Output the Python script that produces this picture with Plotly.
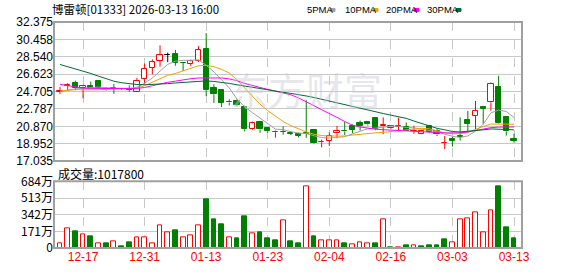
import plotly.graph_objects as go

# ---------------- data ----------------
dates = ["2025-12-12","2025-12-15","2025-12-16","2025-12-17","2025-12-18","2025-12-19",
         "2025-12-22","2025-12-23","2025-12-24","2025-12-29","2025-12-30","2025-12-31",
         "2026-01-02","2026-01-05","2026-01-06","2026-01-07","2026-01-08","2026-01-09",
         "2026-01-12","2026-01-13","2026-01-14","2026-01-15","2026-01-16","2026-01-19",
         "2026-01-20","2026-01-21","2026-01-22","2026-01-23","2026-01-26","2026-01-27",
         "2026-01-28","2026-01-29","2026-01-30","2026-02-02","2026-02-03","2026-02-04",
         "2026-02-05","2026-02-06","2026-02-09","2026-02-10","2026-02-11","2026-02-12",
         "2026-02-13","2026-02-16","2026-02-20","2026-02-23","2026-02-24","2026-02-25",
         "2026-02-26","2026-02-27","2026-03-02","2026-03-03","2026-03-04","2026-03-05",
         "2026-03-06","2026-03-09","2026-03-10","2026-03-11","2026-03-12","2026-03-13"]

opens = [24.68,25.31,25.62,25.15,25.35,25.85,25.00,25.12,25.00,24.97,
         24.67,26.05,27.30,28.12,28.72,28.90,27.90,27.76,28.12,29.38,
         25.15,24.85,23.60,23.70,23.05,20.60,21.35,20.65,20.26,20.28,
         20.10,20.05,20.12,20.50,19.12,19.27,20.08,20.36,20.88,21.20,
         21.38,21.82,20.85,20.70,20.83,20.84,20.35,20.00,20.92,20.40,
         19.02,19.50,19.75,21.58,22.00,23.00,23.52,25.20,21.93,19.50]
highs = [25.20,25.63,25.90,25.45,25.80,25.90,25.20,25.55,25.05,25.38,
         26.20,27.80,28.25,29.80,29.00,29.30,27.95,28.22,29.70,31.15,
         25.50,24.90,23.85,23.85,23.15,21.40,21.48,20.75,20.40,20.87,
         20.35,20.15,23.75,20.55,19.40,20.20,20.90,21.35,21.10,21.50,
         21.45,21.90,21.85,20.95,21.83,21.30,20.94,20.34,20.98,20.58,
         19.80,19.70,21.85,22.55,23.67,23.03,25.70,26.45,21.95,20.05]
lows = [24.45,24.84,24.85,23.96,25.10,25.12,24.80,24.45,24.90,24.67,
        24.65,25.55,26.60,27.45,27.95,27.55,26.97,27.50,27.97,24.20,
        23.45,23.00,23.18,23.08,20.30,20.48,20.15,20.15,19.62,19.95,
        19.90,19.65,19.60,18.95,18.55,18.70,19.55,19.90,20.10,20.40,
        20.95,20.45,20.00,20.60,20.30,20.34,20.05,19.97,20.18,19.80,
        18.35,18.63,19.30,20.23,20.50,21.10,22.60,21.15,19.85,19.05]
closes = [24.78,25.42,25.10,25.28,25.13,25.15,24.95,25.08,24.98,24.93,
          25.91,27.23,27.95,28.72,28.72,27.85,27.86,28.02,29.28,24.85,
          24.40,23.45,23.50,23.20,20.55,21.20,20.52,20.30,20.22,20.24,
          20.05,19.82,20.05,19.00,19.18,19.85,20.32,20.30,20.50,20.85,
          21.08,20.60,21.00,20.85,20.87,20.38,20.40,20.30,20.25,19.97,
          19.08,19.25,19.65,21.12,22.60,22.83,25.55,21.20,20.30,19.30]
# volume in 万 shares
volumes = [49.6,198,168.5,138.8,119,49.6,49.6,66,19.8,59.5,
           109,109,49.6,228,158.6,178,109,129,228,499,
           297,238,109,99,327,155,158.6,99,79,287.5,
           69.4,49.6,631,119,79,79,79,49.6,39.7,59.5,
           49.6,49.6,297,9.9,9.9,29.7,29.7,19.8,29.7,29.7,
           89,59.5,297,307,367,158.6,386.6,637,208,101.78]

ma5 = [24.70,24.85,25.00,25.05,25.14,25.20,25.12,25.12,25.06,25.02,
       25.17,25.63,26.20,26.95,27.70,28.05,28.15,28.15,28.20,27.60,
       26.88,26.00,25.10,23.88,23.02,22.38,21.79,21.15,20.56,20.50,
       20.27,20.13,20.08,19.83,19.62,19.58,19.68,19.73,20.03,20.36,
       20.61,20.67,20.81,20.88,20.88,20.74,20.70,20.56,20.44,20.26,
       20.00,19.77,19.64,19.81,20.34,21.09,22.35,22.66,22.50,21.84]
ma10 = [24.75,24.85,24.92,24.90,24.88,24.90,24.95,24.98,25.00,25.02,
        25.10,25.35,25.75,26.15,26.50,26.70,27.00,27.30,27.55,27.60,
        27.45,27.15,26.75,26.00,25.10,24.15,23.30,22.60,21.95,21.40,
        20.95,20.60,20.25,20.00,19.85,19.80,19.78,19.80,19.90,20.00,
        20.10,20.15,20.20,20.30,20.40,20.50,20.60,20.65,20.60,20.40,
        20.15,20.05,20.05,20.20,20.55,20.85,21.12,21.12,21.12,21.10]
ma20 = [25.50,25.35,25.15,25.08,25.05,25.03,25.02,25.02,25.02,25.03,
        25.05,25.15,25.35,25.55,25.72,25.85,26.00,26.12,26.20,26.22,
        26.22,26.20,26.10,25.90,25.60,25.35,25.15,24.95,24.75,24.55,
        24.35,24.00,23.60,23.15,22.70,22.30,21.85,21.40,21.00,20.80,
        20.65,20.55,20.50,20.45,20.40,20.32,20.25,20.22,20.20,20.18,
        20.15,20.12,20.15,20.25,20.40,20.55,20.72,20.78,20.80,20.80]
ma30 = [27.69,27.45,27.20,26.95,26.70,26.40,26.10,25.85,25.68,25.56,
        25.48,25.45,25.47,25.52,25.58,25.65,25.72,25.80,25.88,25.88,
        25.82,25.74,25.60,25.45,25.30,25.15,25.02,24.90,24.75,24.62,
        24.50,24.38,24.22,24.05,23.85,23.65,23.45,23.22,23.00,22.80,
        22.62,22.45,22.28,22.10,21.95,21.75,21.45,21.18,20.90,20.65,
        20.48,20.30,20.25,20.30,20.40,20.48,20.58,20.58,20.52,20.48]

tick_dates = ["2025-12-17","2025-12-31","2026-01-13","2026-01-23",
              "2026-02-04","2026-02-16","2026-03-03","2026-03-13"]
price_tick_labels = ["17.035","18.952","20.870","22.787","24.705",
                     "26.623","28.540","30.458","32.375"]
vol_tick_values = [0, 171, 342, 513, 684]
vol_tick_labels = ["0", "171万", "342万", "513万", "684万"]
title_text = "博雷顿[01333] 2026-03-13 16:00"
ma_names = ["5PMA", "10PMA", "20PMA", "30PMA"]

# ---------------- styles ----------------
RED = "#ff0000"
GREEN = "#008000"
BLACK = "#000000"
MA_COLORS = ["#a0a0a0", "#f4a000", "#ff00ff", "#006b35"]
FONT = "Liberation Sans, Arial, sans-serif"
CJK = "Noto Sans CJK SC, Liberation Sans, sans-serif"

W, H = 578, 276
L, R, T, B = 54, 522, 21, 255
PW, PH = R - L, B - T


def px(x):
    return (x - L) / PW


def py(y):
    return (B - y) / PH


n = len(dates)
cand_col = []
for i in range(n):
    if closes[i] > opens[i]:
        cand_col.append("r")
    elif closes[i] < opens[i]:
        cand_col.append("g")
    else:
        pc = closes[i - 1] if i > 0 else closes[i]
        cand_col.append("r" if closes[i] > pc else ("g" if closes[i] < pc else "k"))
vol_col = []
for i in range(n):
    ref = closes[i - 1] if i > 0 else opens[i]
    vol_col.append("r" if closes[i] >= ref else "g")

fig = go.Figure()
colmap = {"r": RED, "g": GREEN, "k": BLACK}

# wicks (split above/below the body so hollow bodies stay empty)
for key in ["r", "g", "k"]:
    xs, ys = [], []
    for i in range(n):
        if cand_col[i] != key:
            continue
        top = max(opens[i], closes[i])
        bot = min(opens[i], closes[i])
        xs += [dates[i], dates[i], None, dates[i], dates[i], None]
        ys += [top, highs[i], None, lows[i], bot, None]
    if xs:
        fig.add_trace(go.Scatter(x=xs, y=ys, mode="lines",
                                 line=dict(color=colmap[key], width=1),
                                 hoverinfo="skip", showlegend=False,
                                 xaxis="x", yaxis="y"))

# bodies
for key in ["r", "g", "k"]:
    idx = [i for i in range(n) if cand_col[i] == key]
    if not idx:
        continue
    fill = "#ffffff" if key == "r" else colmap[key]
    fig.add_trace(go.Bar(
        x=[dates[i] for i in idx],
        y=[max(abs(closes[i] - opens[i]), 0.03) for i in idx],
        base=[min(opens[i], closes[i]) for i in idx],
        width=0.68,
        marker=dict(color=fill, line=dict(color=colmap[key], width=1)),
        showlegend=False, hoverinfo="skip", xaxis="x", yaxis="y"))

# moving averages
for vals, col in zip([ma5, ma10, ma20, ma30], MA_COLORS):
    fig.add_trace(go.Scatter(x=dates, y=vals, mode="lines",
                             line=dict(color=col, width=1),
                             hoverinfo="skip", showlegend=False,
                             xaxis="x", yaxis="y"))

# volume
for key in ["r", "g"]:
    idx = [i for i in range(n) if vol_col[i] == key]
    fill = "#ffffff" if key == "r" else GREEN
    fig.add_trace(go.Bar(
        x=[dates[i] for i in idx],
        y=[volumes[i] for i in idx],
        width=0.62,
        marker=dict(color=fill, line=dict(color=colmap[key], width=1)),
        showlegend=False, hoverinfo="skip", xaxis="x2", yaxis="y2"))

xr = [-0.78, n + 0.04]
common_x = dict(type="category", categoryorder="array", categoryarray=dates,
                range=xr, showgrid=True, gridcolor="#c8c8c8", griddash="dash",
                gridwidth=1, zeroline=False, showline=False,
                tickvals=tick_dates, ticktext=[d[5:] for d in tick_dates],
                ticks="")
fig.update_layout(
    width=W, height=H,
    margin=dict(l=L, r=W - R, t=T, b=H - B),
    paper_bgcolor="#ffffff", plot_bgcolor="#ffffff",
    barmode="overlay", bargap=0,
    showlegend=False,
    xaxis=dict(**common_x, anchor="y", showticklabels=False),
    xaxis2=dict(**common_x, anchor="y2", matches="x", showticklabels=True,
                tickfont=dict(family=FONT, size=12, color=RED)),
    yaxis=dict(domain=[py(165), 1.0], range=[17.035, 32.375],
               tickvals=[float(t) for t in price_tick_labels],
               ticktext=price_tick_labels, showgrid=True, gridcolor="#c8c8c8",
               zeroline=False, ticks="", tickfont=dict(family=FONT, size=12, color="#000000")),
    yaxis2=dict(domain=[0.0, py(186)], range=[0, 684],
                tickvals=vol_tick_values, ticktext=vol_tick_labels,
                showgrid=True, gridcolor="#c8c8c8", zeroline=False, ticks="",
                tickfont=dict(family=CJK, size=12, color="#000000")),
)

shapes = [
    dict(type="rect", xref="paper", yref="paper", x0=0, x1=1, y0=py(165), y1=1,
         line=dict(color="#a0a0a0", width=2), fillcolor="rgba(0,0,0,0)"),
    dict(type="rect", xref="paper", yref="paper", x0=0, x1=1, y0=0, y1=py(186),
         line=dict(color="#a0a0a0", width=2), fillcolor="rgba(0,0,0,0)"),
]
annotations = [
    dict(text=title_text, xref="paper", yref="paper", x=px(50), y=py(8),
         xanchor="left", yanchor="middle", showarrow=False,
         font=dict(family=CJK, size=11.5, color="#000000")),
    dict(text="成交量:" + str(int(round(volumes[-1] * 10000))), xref="paper", yref="paper",
         x=px(56), y=py(178), xanchor="left", yanchor="middle", showarrow=False,
         font=dict(family=CJK, size=12, color="#000000")),
    dict(text="东方财富", xref="paper", yref="paper", x=px(306), y=py(90),
         xanchor="center", yanchor="middle", showarrow=False,
         font=dict(family=CJK, size=38, color="rgba(200,200,212,0.45)")),
]
leg_x = [305, 343, 384, 425]
sq_x = [330, 373, 414, 456]
for name, col, lx, sx in zip(ma_names, MA_COLORS, leg_x, sq_x):
    annotations.append(dict(text=name, xref="paper", yref="paper", x=px(lx), y=py(8),
                            xanchor="left", yanchor="middle", showarrow=False,
                            font=dict(family=FONT, size=9.5, color="#000000")))
    shapes.append(dict(type="rect", xref="paper", yref="paper", layer="above",
                       x0=px(sx), x1=px(sx + 5), y0=py(10), y1=py(7),
                       line=dict(color=col, width=1), fillcolor=col))
fig.update_layout(shapes=shapes, annotations=annotations)

fig.write_html("out.html")
